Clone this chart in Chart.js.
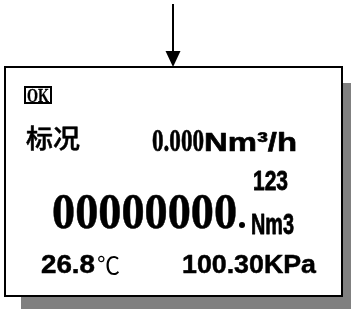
<!DOCTYPE html>
<html>
<head>
<meta charset="utf-8">
<script src="https://cdn.jsdelivr.net/npm/chart.js@4"></script>
<style>
  html, body { margin: 0; padding: 0; background: #fff; }
  #wrap { width: 351px; height: 309px; position: relative; }
</style>
</head>
<body>
<div id="wrap"><canvas id="panelChart"></canvas></div>
<script>
// readings shown on the meter display
const statusText = ["OK"]
const modeLabel = ["标况"]
const flowRate = [0.000]
const flowUnit = ["Nm³/h"]
const totalInt = ["00000000"]
const totalDec = ["123"]
const totalUnit = ["Nm3"]
const temperature = [26.8]
const tempUnit = ["℃"]
const pressure = [100.30]
const pressureUnit = ["KPa"]

const SERIF = "'Liberation Serif', 'Times New Roman', serif"
const SANS = "'Liberation Sans', Arial, sans-serif"
const CJK = "'Noto Sans CJK SC', sans-serif"

// draw text squeezed/stretched to a given width, optionally thickened
function fitText(ctx, text, x, y, font, width, heavy) {
  ctx.save()
  ctx.font = font
  const w = ctx.measureText(text).width
  ctx.translate(x, y)
  ctx.scale(width / w, 1)
  ctx.fillText(text, 0, 0)
  if (heavy) {
    ctx.lineWidth = heavy
    ctx.lineJoin = "round"
    ctx.strokeText(text, 0, 0)
  }
  ctx.restore()
}

const panelPlugin = {
  id: "panel",
  beforeDraw(chart) {
    const ctx = chart.ctx
    const sx = chart.scales.x
    const sy = chart.scales.y
    const X = v => sx.getPixelForValue(v)
    const Y = v => sy.getPixelForValue(v)

    ctx.save()
    ctx.fillStyle = "#fff"
    ctx.fillRect(0, 0, chart.width, chart.height)

    // shadow
    ctx.fillStyle = "#808080"
    ctx.fillRect(X(21), Y(83), X(358) - X(21), Y(312) - Y(83))

    // panel box
    ctx.fillStyle = "#fff"
    ctx.fillRect(X(5), Y(67), X(342) - X(5), Y(296) - Y(67))
    ctx.strokeStyle = "#000"
    ctx.lineWidth = 2
    ctx.strokeRect(X(5), Y(67), X(342) - X(5), Y(296) - Y(67))

    // arrow
    ctx.beginPath()
    ctx.moveTo(X(173), Y(4))
    ctx.lineTo(X(173), Y(55))
    ctx.stroke()
    ctx.beginPath()
    ctx.moveTo(X(165.5), Y(51))
    ctx.lineTo(X(180.5), Y(51))
    ctx.lineTo(X(173), Y(67))
    ctx.closePath()
    ctx.fillStyle = "#000"
    ctx.fill()

    // status box
    ctx.strokeRect(X(25), Y(87), X(51) - X(25), Y(103) - Y(87))
    fitText(ctx, statusText[0], X(27), Y(101.5), "bold 18px " + SERIF, 22, 0.3)

    fitText(ctx, modeLabel[0], X(26), Y(148), "500 26px " + CJK, 54, 0.5)

    fitText(ctx, flowRate[0].toFixed(3), X(152), Y(151), "bold 32px " + SERIF, 52, 0.6)
    fitText(ctx, flowUnit[0], X(204), Y(151), "bold 26px " + SANS, 93, 0.6)

    // totaliser
    fitText(ctx, totalInt[0], X(52), Y(228), "bold 51px " + SERIF, 185, 0.5)
    ctx.beginPath()
    ctx.arc(X(242), Y(225), 3, 0, Math.PI * 2)
    ctx.fill()
    fitText(ctx, totalDec[0], X(253), Y(190), "bold 27px " + SANS, 35, 0.8)
    fitText(ctx, totalUnit[0], X(251), Y(234), "bold 29px " + SANS, 43, 0.8)

    fitText(ctx, temperature[0].toFixed(1), X(41), Y(273), "bold 26px " + SANS, 54, 0.5)
    fitText(ctx, tempUnit[0], X(97), Y(274), "24px " + CJK, 23)
    fitText(ctx, pressure[0].toFixed(2) + pressureUnit[0], X(182), Y(273), "bold 26px " + SANS, 134, 0.5)
    ctx.restore()
  }
}

new Chart(document.getElementById("panelChart"), {
  type: "scatter",
  data: { datasets: [{ data: [] }] },
  options: {
    responsive: true,
    maintainAspectRatio: false,
    animation: false,
    events: [],
    layout: { padding: 0 },
    scales: {
      x: { type: "linear", min: 0, max: 351, display: false },
      y: { type: "linear", min: 0, max: 309, reverse: true, display: false }
    },
    plugins: { legend: { display: false }, tooltip: { enabled: false } }
  },
  plugins: [panelPlugin]
})
</script>
</body>
</html>
